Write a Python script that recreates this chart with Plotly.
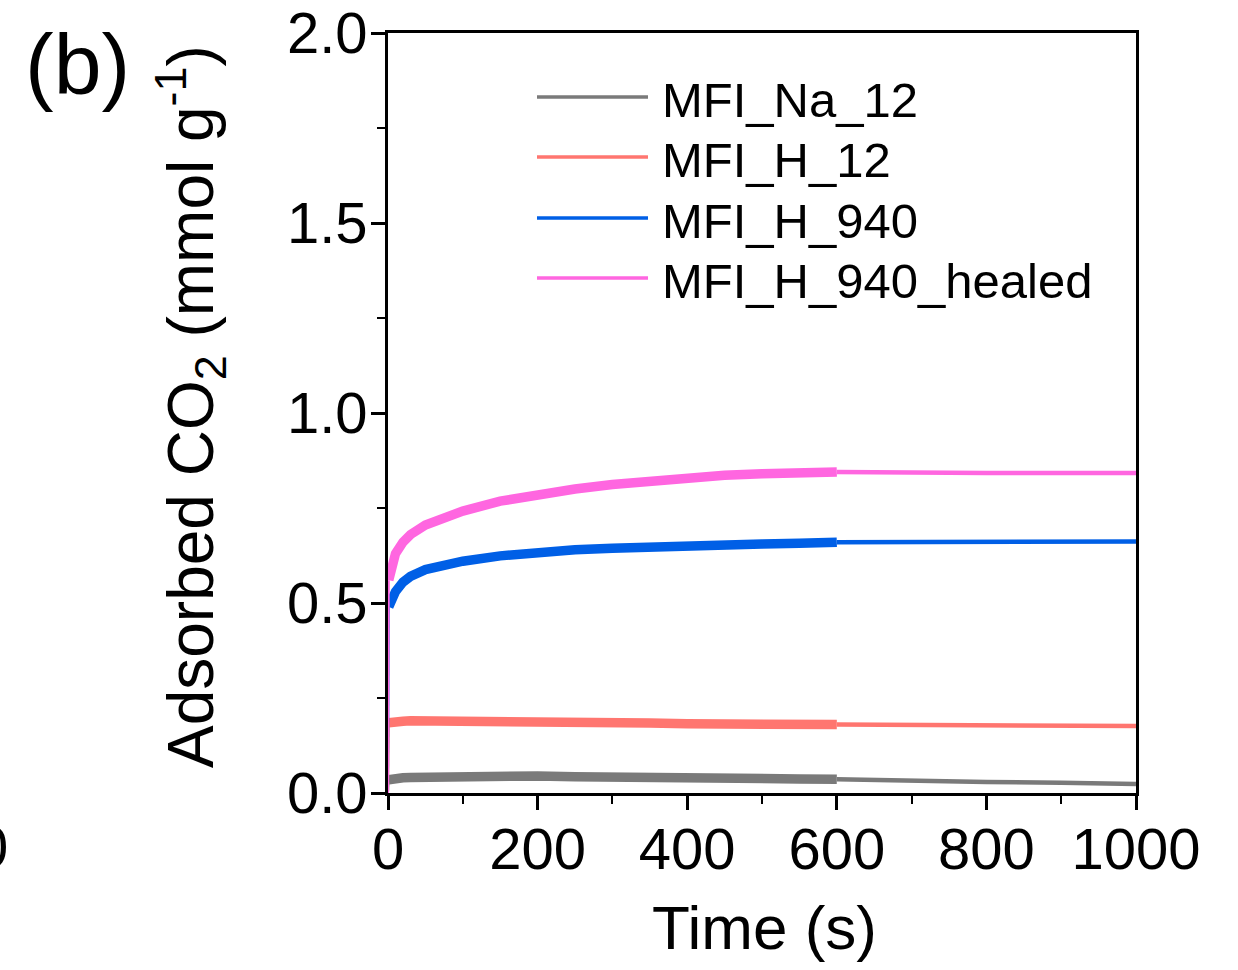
import plotly.graph_objects as go

# Time axis (s) and adsorbed CO2 uptake (mmol/g) for each sample
time_s = [0, 1, 5, 10, 20, 30, 50, 75, 100, 150, 200, 250, 300, 350, 400,
          450, 500, 550, 600, 700, 800, 900, 1000]

mfi_na_12 = [0, 0.035, 0.037, 0.038, 0.040, 0.041, 0.042, 0.043, 0.044, 0.045,
             0.045, 0.043, 0.041, 0.040, 0.039, 0.039, 0.038, 0.037, 0.036,
             0.032, 0.029, 0.027, 0.024]
mfi_h_12 = [0, 0.185, 0.187, 0.188, 0.189, 0.190, 0.190, 0.190, 0.190, 0.189,
            0.188, 0.186, 0.185, 0.184, 0.182, 0.181, 0.180, 0.181, 0.180,
            0.179, 0.178, 0.177, 0.176]
mfi_h_940 = [0, 0.49, 0.51, 0.53, 0.555, 0.57, 0.588, 0.600, 0.610, 0.624,
             0.634, 0.640, 0.644, 0.648, 0.650, 0.653, 0.655, 0.657, 0.660,
             0.660, 0.660, 0.661, 0.662]
mfi_h_940_healed = [0, 0.56, 0.60, 0.63, 0.66, 0.68, 0.705, 0.725, 0.742,
                    0.768, 0.787, 0.800, 0.812, 0.822, 0.830, 0.836, 0.840,
                    0.843, 0.845, 0.843, 0.842, 0.842, 0.842]

series_names = ["MFI_Na_12", "MFI_H_12", "MFI_H_940", "MFI_H_940_healed"]
series_values = [mfi_na_12, mfi_h_12, mfi_h_940, mfi_h_940_healed]
series_colors = ["#7a7a7a", "#ff7670", "#005fe6", "#ff66e0"]

FONT = "Liberation Sans, Arial, sans-serif"
W, H = 1238, 970
L, R, T, B = 388, 102, 33, 177
PW, PH = W - L - R, H - T - B


def px_x(px):
    return (px - L) / PW


def px_y(py):
    return (H - B - py) / PH


fig = go.Figure()

for name, vals, col in zip(series_names, series_values, series_colors):
    # initial jump at t = 0 (thin), dense early record (thick), later record
    segs = [
        ([t for t in time_s if t <= 1], 2.0),
        ([t for t in time_s if 1 <= t <= 600], 9.5),
        ([t for t in time_s if t >= 600], 4.5),
    ]
    for ts, w in segs:
        idx = [time_s.index(t) for t in ts]
        fig.add_trace(go.Scatter(
            x=ts, y=[vals[i] for i in idx], mode="lines",
            line=dict(color=col, width=w), name=name, showlegend=False,
            hoverinfo="skip",
        ))

axis_common = dict(
    showgrid=False, zeroline=False, showline=True, mirror=True,
    linecolor="black", linewidth=2.5, automargin=False,
    ticks="outside", ticklen=14, tickwidth=2.5, tickcolor="black",
    tickfont=dict(family=FONT, size=58, color="black"),
)

fig.update_xaxes(range=[0, 1000], tickmode="linear", tick0=0, dtick=200,
                 ticklabelstandoff=-10,
                 minor=dict(ticks="outside", dtick=100, ticklen=8,
                            tickwidth=2.2, tickcolor="black"),
                 **axis_common)
fig.update_yaxes(range=[0, 2.0], tickmode="linear", tick0=0, dtick=0.5,
                 tickformat=".1f", ticklabelstandoff=-8,
                 minor=dict(ticks="outside", dtick=0.25, ticklen=8,
                            tickwidth=2.2, tickcolor="black"),
                 **axis_common)

annotations = [
    dict(text="(b)", x=px_x(77), y=px_y(64), xref="paper", yref="paper",
         showarrow=False, xanchor="center", yanchor="middle",
         font=dict(family=FONT, size=86, color="black")),
    dict(text="Adsorbed CO<sub>2</sub> (mmol g<sup>-1</sup>)",
         x=px_x(190), y=px_y(407), xref="paper", yref="paper",
         showarrow=False, textangle=-90, xanchor="center", yanchor="middle",
         font=dict(family=FONT, size=64, color="black")),
    dict(text="Time (s)", x=px_x(764), y=px_y(927), xref="paper",
         yref="paper", showarrow=False, xanchor="center", yanchor="middle",
         font=dict(family=FONT, size=62, color="black")),
    dict(text="0", x=px_x(10), y=px_y(846), xref="paper", yref="paper",
         showarrow=False, xanchor="right", yanchor="middle",
         font=dict(family=FONT, size=58, color="black")),
]

shapes = []
legend_rows = [97, 157, 218, 278]
for name, col, ry in zip(series_names, series_colors, legend_rows):
    shapes.append(dict(type="line", xref="paper", yref="paper",
                       x0=px_x(537), x1=px_x(648), y0=px_y(ry), y1=px_y(ry),
                       line=dict(color=col, width=3.5)))
    annotations.append(dict(text=name, x=px_x(660), y=px_y(ry + 3),
                            xref="paper", yref="paper", showarrow=False,
                            xanchor="left", yanchor="middle",
                            font=dict(family=FONT, size=49, color="black")))

fig.update_layout(
    width=W, height=H,
    margin=dict(l=L, r=R, t=T, b=B, autoexpand=False),
    paper_bgcolor="white", plot_bgcolor="white",
    showlegend=False,
    annotations=annotations, shapes=shapes,
    font=dict(family=FONT, color="black"),
)

fig.write_html("out.html")
